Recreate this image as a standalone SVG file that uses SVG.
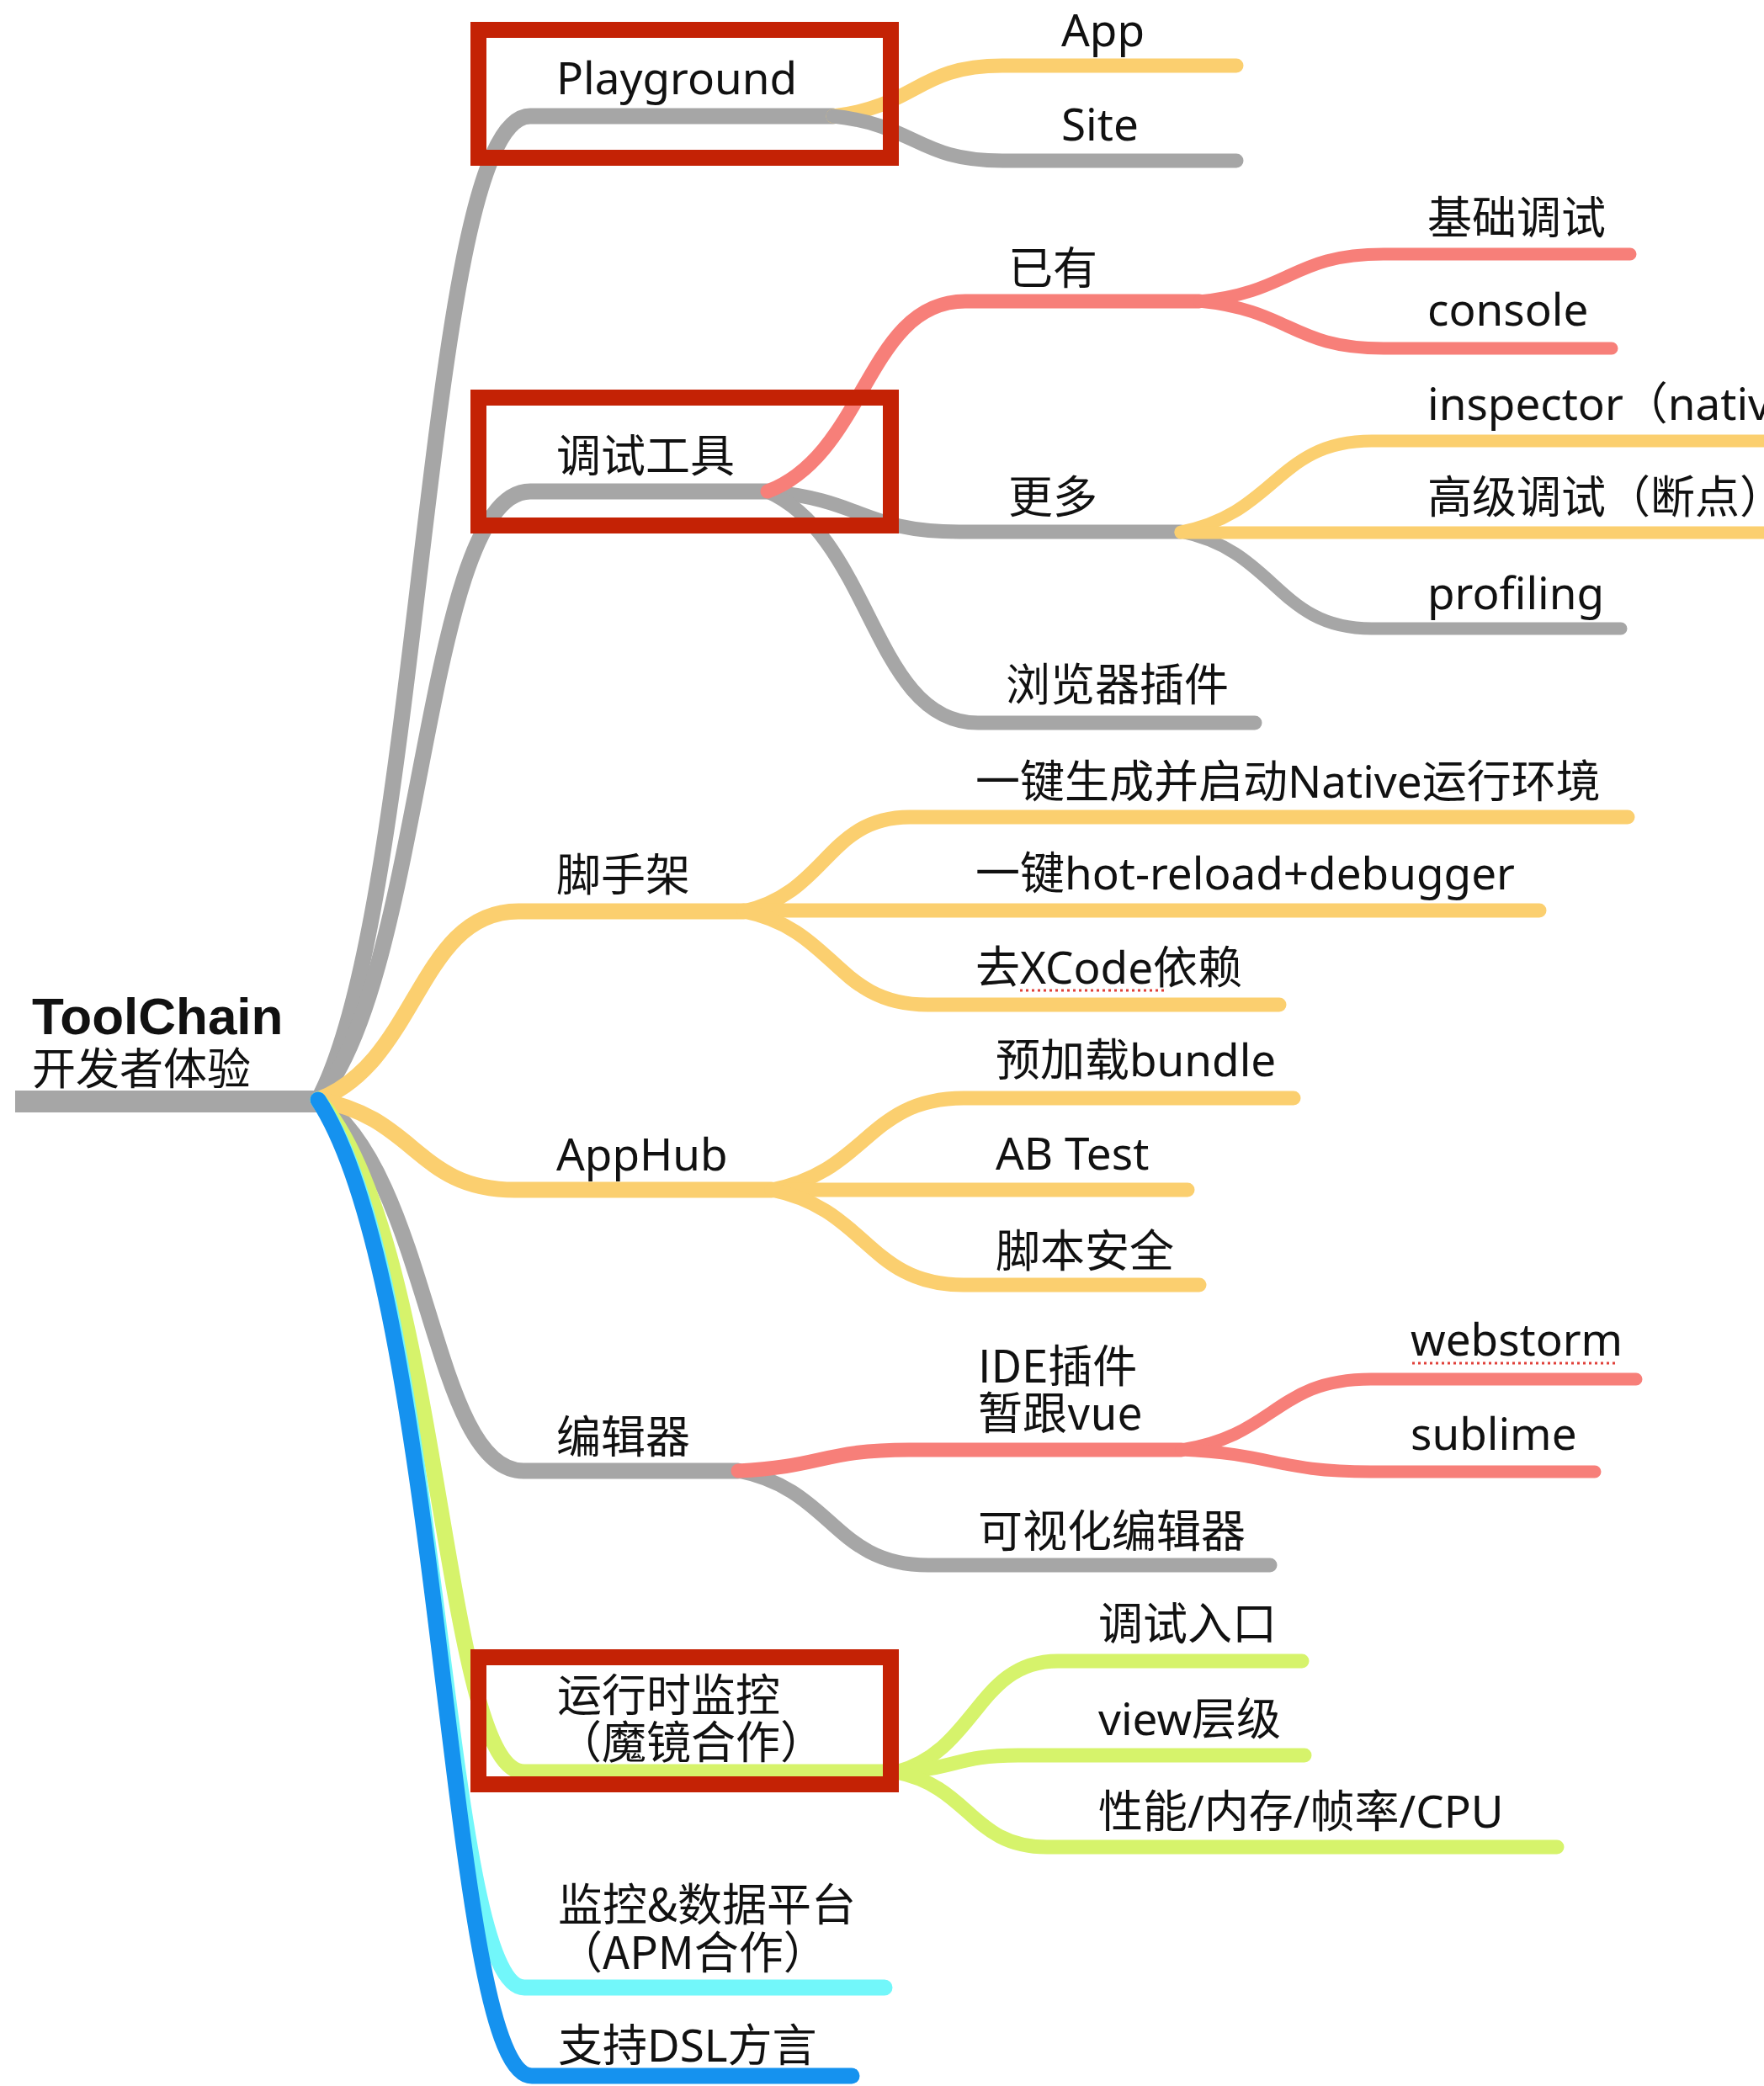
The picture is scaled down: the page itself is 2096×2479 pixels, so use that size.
<svg xmlns="http://www.w3.org/2000/svg" width="2096" height="2479" viewBox="0 0 2096 2479">
<style>
  text { font-family: "Noto Sans", "Noto Sans CJK SC", sans-serif; font-size: 53px; fill: #111111; }
  .root-t { font-family: "Liberation Sans", "Noto Sans CJK SC", sans-serif; font-weight: bold; font-size: 62px; }
  .root-s { font-family: "Noto Sans CJK SC", sans-serif; font-size: 52px; }
  .ml { font-family: "Noto Sans CJK SC", "Noto Sans", sans-serif; }
  .c { fill: none; stroke-linecap: round; stroke-linejoin: round; }
  .l0 { stroke-width: 26; stroke-linecap: butt; }
  .l1 { stroke-width: 19; }
  .l2 { stroke-width: 17; }
  .l3 { stroke-width: 15; }
  .gray { stroke: #a6a6a6; }
  .yel { stroke: #fbcf6f; }
  .red { stroke: #f77f79; }
  .grn { stroke: #d6f36b; }
  .cyan { stroke: #72f7fa; }
  .blue { stroke: #1592ef; }
  .box { fill: none; stroke: #c42205; stroke-width: 19; }
  .spell { fill: none; stroke: #e0403a; stroke-width: 3; stroke-dasharray: 3 4; }
</style>
<rect x="0" y="0" width="2096" height="2479" fill="#ffffff"/>

<g id="connectors">
  <!-- root -->
  <path class="c l0 gray" d="M18,1309 H380"/>
  <!-- level 1 -->
  <path class="c l1 gray" d="M378,1307 C504,1073 504,138 630,138 H990"/>
  <path class="c l1 gray" d="M378,1307 C504,1162 504,584 630,584 H912"/>
  <path class="c l1 gray" d="M378,1307 C512,1395 512,1748 622,1748 H877"/>
  <path class="c l1 yel" d="M378,1307 C497,1262 497,1083 616,1083 H884"/>
  <path class="c l1 yel" d="M378,1307 C495,1328 495,1414 612,1414 H917"/>
  <path class="c l1 grn" d="M378,1307 C525,1467 525,2106 623,2106 H1065"/>
  <path class="c l1 cyan" d="M378,1307 C525,1518 525,2362 623,2362 H1051"/>
  <path class="c l1 blue" d="M378,1307 C530,1539 530,2467 632,2467 H1012"/>
  <!-- Playground children -->
  <path class="c l2 yel" d="M990,138 C1090,126 1090,78 1191,78 H1469"/>
  <path class="c l2 gray" d="M990,138 C1090,149 1090,191 1191,191 H1469"/>
  <!-- 调试工具 children -->
  <path class="c l2 gray" d="M912,584 C1026,594 1026,632 1140,632 H1403"/>
  <path class="c l2 gray" d="M912,584 C1037,639 1037,859 1162,859 H1491"/>
  <path class="c l2 red" d="M912,584 C1030,539 1030,358 1147,358 H1425"/>
  <!-- 已有 children -->
  <path class="c l3 red" d="M1425,358 C1535,347 1535,302 1644,302 H1937"/>
  <path class="c l3 red" d="M1425,358 C1535,369 1535,414 1644,414 H1915"/>
  <!-- 更多 children -->
  <path class="c l3 gray" d="M1403,632 C1517,655 1517,747 1630,747 H1926"/>
  <path class="c l3 yel" d="M1403,632 C1517,610 1517,524 1630,524 H2120"/>
  <path class="c l3 yel" d="M1403,633 H2120"/>
  <!-- 脚手架 children -->
  <path class="c l2 yel" d="M884,1083 C983,1061 983,971 1081,971 H1934"/>
  <path class="c l2 yel" d="M884,1082 H1829"/>
  <path class="c l2 yel" d="M884,1083 C993,1105 993,1194 1102,1194 H1520"/>
  <!-- AppHub children -->
  <path class="c l2 yel" d="M917,1414 C1031,1392 1031,1305 1145,1305 H1537"/>
  <path class="c l2 yel" d="M917,1414 H1411"/>
  <path class="c l2 yel" d="M917,1414 C1031,1437 1031,1527 1145,1527 H1425"/>
  <!-- 编辑器 children -->
  <path class="c l2 gray" d="M877,1748 C990,1770 990,1860 1103,1860 H1509"/>
  <path class="c l2 red" d="M877,1748 C978,1743 978,1723 1080,1723 H1404"/>
  <!-- IDE插件 children -->
  <path class="c l3 red" d="M1404,1723 C1516,1706 1516,1639 1629,1639 H1944"/>
  <path class="c l3 red" d="M1404,1723 C1516,1728 1516,1749 1629,1749 H1895"/>
  <!-- 运行时监控 children -->
  <path class="c l2 grn" d="M1065,2106 C1161,2080 1161,1974 1257,1974 H1547"/>
  <path class="c l2 grn" d="M1065,2106 C1137,2102 1137,2086 1210,2086 H1550"/>
  <path class="c l2 grn" d="M1065,2106 C1154,2124 1154,2195 1244,2195 H1850"/>
</g>

<g id="node-root">
  <text class="root-t" x="38" y="1229">ToolChain</text>
  <text class="root-s" x="38" y="1289">开发者体验</text>
</g>

<g id="node-playground"><text x="661" y="112">Playground</text></g>
<g id="node-app"><text x="1261" y="55">App</text></g>
<g id="node-site"><text x="1261" y="167">Site</text></g>

<g id="node-debugtools"><text x="661" y="561">调试工具</text></g>
<g id="node-existing"><text x="1198" y="338">已有</text></g>
<g id="node-basicdebug"><text x="1696" y="278">基础调试</text></g>
<g id="node-console"><text x="1696" y="387">console</text></g>
<g id="node-more"><text x="1198" y="610">更多</text></g>
<g id="node-inspector"><text x="1696" y="499">inspector（nativ</text></g>
<g id="node-advdebug"><text x="1696" y="610">高级调试（断点）</text></g>
<g id="node-profiling"><text x="1696" y="724">profiling</text></g>
<g id="node-browserplugin"><text x="1195" y="833">浏览器插件</text></g>

<g id="node-scaffold"><text x="661" y="1059">脚手架</text></g>
<g id="node-native-env"><text x="1159" y="948">一键生成并启动Native运行环境</text></g>
<g id="node-hotreload"><text x="1159" y="1057">一键hot-reload+debugger</text></g>
<g id="node-noxcode">
  <text x="1159" y="1169">去XCode依赖</text>
  <path class="spell" d="M1212,1177 H1386"/>
</g>

<g id="node-apphub"><text x="661" y="1391">AppHub</text></g>
<g id="node-preload"><text x="1183" y="1279">预加载bundle</text></g>
<g id="node-abtest"><text x="1183" y="1390">AB Test</text></g>
<g id="node-scriptsec"><text x="1183" y="1506">脚本安全</text></g>

<g id="node-editor"><text x="661" y="1727">编辑器</text></g>
<g id="node-ideplugin">
  <text class="ml" x="1162" y="1643">IDE插件<tspan x="1162" dy="56">暂跟vue</tspan></text>
</g>
<g id="node-webstorm">
  <text x="1676" y="1611">webstorm</text>
  <path class="spell" d="M1678,1620 H1922"/>
</g>
<g id="node-sublime"><text x="1676" y="1723">sublime</text></g>
<g id="node-visualeditor"><text x="1162" y="1839">可视化编辑器</text></g>

<g id="node-runtime">
  <text class="ml" x="662" y="2034">运行时监控<tspan x="662" dy="56">（魔镜合作）</tspan></text>
</g>
<g id="node-debugentry"><text x="1305" y="1949">调试入口</text></g>
<g id="node-viewlevel"><text x="1305" y="2062">view层级</text></g>
<g id="node-perf"><text x="1305" y="2172">性能/内存/帧率/CPU</text></g>

<g id="node-apm">
  <text class="ml" x="663" y="2283">监控&amp;数据平台<tspan x="663" dy="57">（APM合作）</tspan></text>
</g>
<g id="node-dsl"><text x="663" y="2450">支持DSL方言</text></g>

<g id="highlights">
  <rect class="box" x="568.5" y="35.5" width="490" height="152"/>
  <rect class="box" x="568.5" y="472.5" width="490" height="152"/>
  <rect class="box" x="568.5" y="1969.5" width="490" height="151"/>
</g>
</svg>
